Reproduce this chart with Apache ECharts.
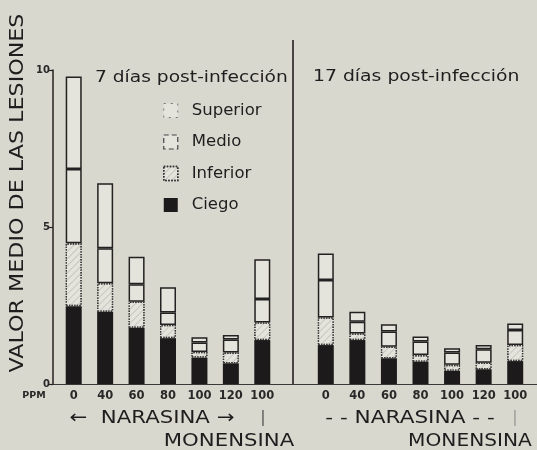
<!DOCTYPE html>
<html><head><meta charset="utf-8">
<script src="https://cdn.jsdelivr.net/npm/echarts@6/dist/echarts.min.js"></script>
<style>html,body{margin:0;padding:0;background:#d9d8cf;}#c{width:537px;height:450px;}</style>
</head><body><div id="c"></div>
<script>
var categories = ['0','40','60','80','100','120','100'];
var seriesNames = ['Superior','Medio','Inferior','Ciego'];
// 7 días post-infección
var d7_ciego    = [2.48, 2.30, 1.79, 1.46, 0.84, 0.66, 1.40];
var d7_inferior = [2.00, 0.91, 0.83, 0.42, 0.18, 0.34, 0.56];
var d7_medio    = [2.37, 1.11, 0.56, 0.40, 0.30, 0.42, 0.75];
var d7_superior = [2.94, 2.07, 0.87, 0.80, 0.17, 0.14, 1.26];
// 17 días post-infección
var d17_ciego    = [1.24, 1.40, 0.82, 0.71, 0.42, 0.47, 0.73];
var d17_inferior = [0.88, 0.21, 0.37, 0.21, 0.19, 0.21, 0.51];
var d17_medio    = [1.19, 0.37, 0.48, 0.43, 0.39, 0.43, 0.48];
var d17_superior = [0.85, 0.32, 0.23, 0.16, 0.14, 0.13, 0.21];
var yTicks = [0, 5, 10];

var BG = '#d9d8cf', INK = '#232121', FILL = '#e5e4dc', TXT = '#1f1d1d';
var FONT = 'DejaVu Sans';

var styles = {
  'Ciego':    {color: '#1c1a1a', borderWidth: 0},
  'Inferior': {color: FILL, borderColor: '#3a3a3a', borderWidth: 1.3, borderType: 'dotted',
               decal: {symbol: 'rect', symbolSize: 1, dashArrayX: [1, 0], dashArrayY: [1, 4], rotation: -Math.PI / 4, color: 'rgba(90,90,90,0.22)'}},
  'Medio':    {color: FILL, borderColor: INK, borderWidth: 1.5},
  'Superior': {color: FILL, borderColor: INK, borderWidth: 1.5}
};
function mk(name, data, idx, stack) {
  return {name: name, type: 'bar', stack: stack, xAxisIndex: idx, yAxisIndex: idx,
    data: data, barWidth: 16, itemStyle: styles[name], emphasis: {disabled: true}, animation: false};
}
var series = [
  mk('Ciego', d7_ciego, 0, 'a'), mk('Inferior', d7_inferior, 0, 'a'), mk('Medio', d7_medio, 0, 'a'), mk('Superior', d7_superior, 0, 'a'),
  mk('Ciego', d17_ciego, 1, 'b'), mk('Inferior', d17_inferior, 1, 'b'), mk('Medio', d17_medio, 1, 'b'), mk('Superior', d17_superior, 1, 'b')
];

var xAx = function (gi) {
  return {type: 'category', gridIndex: gi, data: categories,
    axisLine: {show: false}, axisTick: {show: false},
    axisLabel: {color: '#2a2828', fontFamily: FONT, fontSize: 11.5, fontWeight: 'bold', margin: 6}};
};
function txt(x, y, s, size, sx, fill, align) {
  return {type: 'text', x: x, y: y, scaleX: sx, silent: true,
    style: {text: s, fontSize: size, fontFamily: FONT, fill: fill || TXT, align: align || 'center', verticalAlign: 'middle'}};
}

var chart = echarts.init(document.getElementById('c'), null, {renderer: 'canvas'});
chart.setOption({
  backgroundColor: BG,
  animation: false,
  textStyle: {fontFamily: FONT},
  grid: [
    {left: 58, right: 259, top: 70, bottom: 66},
    {left: 310, right: 6, top: 70, bottom: 66}
  ],
  xAxis: [xAx(0), xAx(1)],
  yAxis: [
    {type: 'value', gridIndex: 0, min: yTicks[0], max: yTicks[2], interval: yTicks[1], offset: 5,
     axisLine: {show: true, lineStyle: {color: INK, width: 1.5}},
     axisTick: {show: true, length: 5, lineStyle: {color: INK, width: 1.2}},
     splitLine: {show: false},
     axisLabel: {color: '#2a2828', fontSize: 10, fontWeight: 'bold', margin: 3, fontFamily: FONT}},
    {type: 'value', gridIndex: 1, min: 0, max: 10, interval: 5, show: false, splitLine: {show: false}}
  ],
  legend: {
    orient: 'vertical', left: 158, top: 97, itemGap: 14.5, itemWidth: 14, itemHeight: 14,
    selectedMode: false,
    textStyle: {fontSize: 16.5, color: TXT, fontFamily: FONT, padding: [0, 0, 0, 9]},
    data: [
      {name: 'Superior', icon: 'rect', itemStyle: {color: FILL, borderColor: '#777', borderWidth: 1, borderType: [2, 5]}},
      {name: 'Medio', icon: 'rect', itemStyle: {color: FILL, borderColor: '#444', borderWidth: 1.2, borderType: [5, 3]}},
      {name: 'Inferior', icon: 'rect', itemStyle: {color: FILL, borderColor: '#333', borderWidth: 1.5, borderType: 'dotted'}},
      {name: 'Ciego', icon: 'rect', itemStyle: {color: '#1c1a1a', borderWidth: 0}}
    ]
  },
  graphic: [
    {type: 'line', shape: {x1: 293, y1: 40, x2: 293, y2: 385}, style: {stroke: INK, lineWidth: 1.6}, silent: true},
    {type: 'line', shape: {x1: 53, y1: 384.5, x2: 537, y2: 384.5}, style: {stroke: '#3a3838', lineWidth: 1.2}, silent: true},
    {type: 'text', x: 18, y: 193, rotation: Math.PI / 2, scaleX: 1.14, silent: true,
     style: {text: 'VALOR MEDIO DE LAS LESIONES', fontSize: 19.5, fontFamily: FONT, fill: TXT, align: 'center', verticalAlign: 'middle'}},
    txt(95, 78, '7 días post-infección', 16.5, 1.13, TXT, 'left'),
    txt(313, 77, '17 días post-infección', 16.5, 1.14, TXT, 'left'),
    {type: 'text', x: 34, y: 396, silent: true, style: {text: 'PPM', fontSize: 9.5, fontWeight: 'bold', fontFamily: FONT, fill: '#2a2828', align: 'center', verticalAlign: 'middle'}},
    txt(152, 418, '←  NARASINA →', 18, 1.18),
    txt(263, 418, '|', 16, 1, '#555'),
    txt(229, 441, 'MONENSINA', 18, 1.18),
    txt(410, 418, '- - NARASINA - -', 18, 1.2),
    txt(515, 418, '|', 16, 1, '#999'),
    txt(470, 441, 'MONENSINA', 18, 1.12)
  ],
  series: series
});
</script></body></html>
